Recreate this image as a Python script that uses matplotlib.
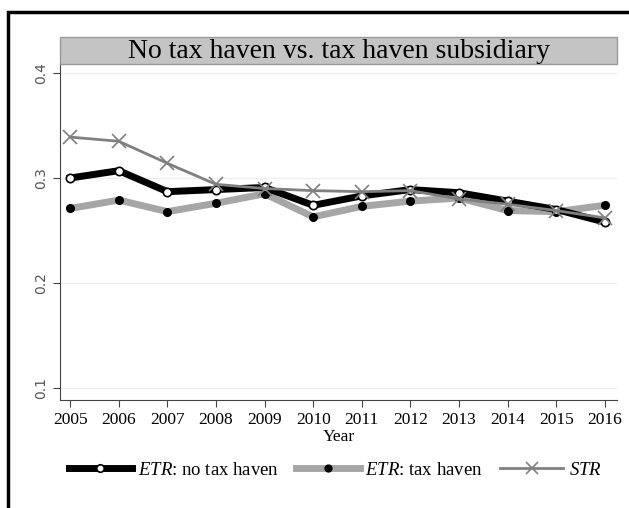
import matplotlib
matplotlib.use("Agg")
import matplotlib.pyplot as plt
from matplotlib.patches import Rectangle

plt.rcParams['font.family'] = ['Liberation Serif', 'DejaVu Serif']
plt.rcParams['mathtext.fontset'] = 'custom'
plt.rcParams['mathtext.rm'] = 'Liberation Serif'
plt.rcParams['mathtext.it'] = 'Liberation Serif:italic'

# data
years = [2005, 2006, 2007, 2008, 2009, 2010, 2011, 2012, 2013, 2014, 2015, 2016]
etr_no_haven = [0.300, 0.307, 0.287, 0.289, 0.291, 0.274, 0.283, 0.289, 0.286, 0.278, 0.270, 0.258]
etr_haven = [0.271, 0.279, 0.268, 0.276, 0.285, 0.263, 0.273, 0.278, 0.281, 0.269, 0.268, 0.274]
str_rate = [0.339, 0.335, 0.314, 0.294, 0.290, 0.288, 0.287, 0.288, 0.280, 0.275, 0.269, 0.262]
y_ticks = [0.1, 0.2, 0.3, 0.4]
title = 'No tax haven vs. tax haven subsidiary'

fig = plt.figure(figsize=(6.29, 5.08), dpi=100)

# outer frame (cropped box, only left and top visible)
fig.patches.append(Rectangle((8/629, -0.1), 1.2, 1 - 12/508 + 0.1, transform=fig.transFigure,
                             fill=False, edgecolor='black', linewidth=2.5))

ax = fig.add_axes([60/629, 108/508, 557/629, 336/508])

ax.plot(years, etr_no_haven, color='black', linewidth=5, marker='o', markersize=6,
        markerfacecolor='white', markeredgecolor='black', markeredgewidth=1.2,
        label='$\\mathit{ETR}$: no tax haven', zorder=3)
ax.plot(years, etr_haven, color='#a6a6a6', linewidth=5, marker='o', markersize=5.5,
        markerfacecolor='black', markeredgecolor='black',
        label='$\\mathit{ETR}$: tax haven', zorder=2)
ax.plot(years, str_rate, color='#808080', linewidth=2, marker='x', markersize=10,
        markeredgewidth=1.2, label='$\\mathit{STR}$', zorder=4)

ax.set_xlim(2004.79, 2016.25)
ax.set_ylim(0.0886, 0.4086)
ax.set_xticks(years)
ax.set_xticklabels([str(y) for y in years], fontsize=12.5)
ax.set_yticks(y_ticks)
ax.set_yticklabels([f'{t:.1f}' for t in y_ticks], rotation=90, va='center',
                   fontsize=10, color='#555555', family='DejaVu Sans')
ax.grid(axis='y', color='#eeeeee', linewidth=1)
ax.set_axisbelow(True)
for s in ['top', 'right']:
    ax.spines[s].set_visible(False)
ax.spines['left'].set_color('#444444')
ax.spines['bottom'].set_color('#444444')
ax.tick_params(color='#444444', length=5)
ax.set_xlabel('Year', fontsize=12.5, labelpad=1)

# title band
fig.patches.append(Rectangle((60/629, 444/508), 557/629, 27/508, transform=fig.transFigure,
                             facecolor='#c4c4c4', edgecolor='#999999', linewidth=1))
fig.text((60 + 557/2)/629, 457/508, title, ha='center', va='center', fontsize=20)

fig.legend(loc='center', bbox_to_anchor=(0.533, 38/508), ncol=3, frameon=False,
           fontsize=13.5, handlelength=3.4, columnspacing=0.9, handletextpad=0.3,
           markerscale=0.9)

fig.savefig('out.png', dpi=100)
